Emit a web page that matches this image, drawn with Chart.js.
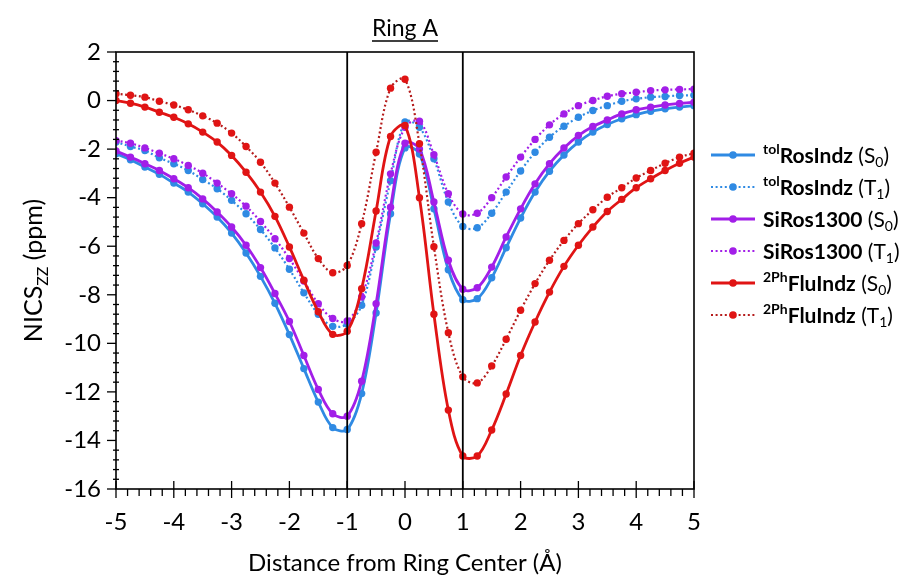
<!DOCTYPE html>
<html>
<head>
<meta charset="utf-8">
<script src="https://cdn.jsdelivr.net/npm/chart.js@4.4.1/dist/chart.umd.min.js"></script>
<style>
  html, body { margin: 0; padding: 0; background: #fff; }
  #wrap { width: 901px; height: 582px; }
</style>
</head>
<body>
<div id="wrap"><canvas id="chart" width="901" height="582"></canvas></div>
<script>
// distance from ring center (Å)
var distance = [-5, -4.75, -4.5, -4.25, -4, -3.75, -3.5, -3.25, -3, -2.75, -2.5, -2.25, -2, -1.75, -1.5, -1.25, -1, -0.75, -0.5, -0.25,
  0, 0.25, 0.5, 0.75, 1, 1.25, 1.5, 1.75, 2, 2.25, 2.5, 2.75, 3, 3.25, 3.5, 3.75, 4, 4.25, 4.5, 4.75, 5];

var rosS0 = [-2.19, -2.44, -2.74, -3.04, -3.40, -3.77, -4.25, -4.80, -5.46, -6.28, -7.24, -8.35, -9.64, -11.04, -12.42, -13.47, -13.55, -12.07, -8.75, -4.66,
  -1.95, -2.2, -4.46, -6.97, -8.2, -8.16, -7.30, -6.06, -4.84, -3.77, -2.91, -2.24, -1.71, -1.30, -0.99, -0.75, -0.58, -0.44, -0.34, -0.27, -0.21];
var rosT1 = [-1.71, -1.89, -2.06, -2.36, -2.60, -2.88, -3.25, -3.63, -4.11, -4.66, -5.31, -6.07, -6.95, -7.92, -8.8, -9.3, -9.2, -8.43, -6.03, -3.3,
  -0.88, -1.1, -2.40, -4.18, -5.19, -5.24, -4.64, -3.77, -2.90, -2.13, -1.51, -1.06, -0.69, -0.41, -0.21, -0.03, 0.07, 0.14, 0.17, 0.21, 0.22];
var siS0 = [-2.08, -2.33, -2.60, -2.88, -3.22, -3.59, -4.05, -4.59, -5.21, -5.96, -6.88, -7.95, -9.1, -10.5, -11.9, -12.9, -13.0, -11.56, -8.37, -4.39,
  -1.76, -2.0, -4.18, -6.58, -7.77, -7.71, -6.86, -5.62, -4.46, -3.43, -2.60, -1.95, -1.44, -1.07, -0.80, -0.55, -0.38, -0.27, -0.18, -0.12, -0.07];
var siT1 = [-1.65, -1.76, -1.95, -2.17, -2.40, -2.67, -2.99, -3.40, -3.84, -4.35, -4.98, -5.69, -6.51, -7.43, -8.37, -8.98, -9.08, -8.09, -5.87, -3.02,
  -1.1, -0.85, -2.23, -3.84, -4.67, -4.64, -4.0, -3.15, -2.33, -1.60, -1.0, -0.55, -0.21, 0.0, 0.18, 0.28, 0.34, 0.41, 0.44, 0.46, 0.47];
var fluS0 = [0.0, -0.11, -0.27, -0.48, -0.69, -0.96, -1.30, -1.71, -2.26, -2.95, -3.77, -4.77, -6.03, -7.40, -8.70, -9.63, -9.50, -7.75, -4.55, -1.48,
  -1.03, -4.0, -8.8, -12.75, -14.64, -14.64, -13.57, -12.09, -10.5, -9.12, -7.89, -6.83, -5.96, -5.21, -4.57, -4.07, -3.59, -3.22, -2.88, -2.58, -2.33];
var fluT1 = [0.28, 0.22, 0.14, -0.03, -0.18, -0.38, -0.63, -0.93, -1.34, -1.89, -2.54, -3.40, -4.39, -5.46, -6.51, -7.09, -6.79, -5.07, -2.13, 0.51,
  0.88, -1.78, -6.02, -9.56, -11.38, -11.63, -10.93, -9.83, -8.64, -7.54, -6.58, -5.76, -5.07, -4.50, -3.98, -3.59, -3.19, -2.88, -2.58, -2.33, -2.17];

var yTicks = [2, 0, -2, -4, -6, -8, -10, -12, -14, -16];
var xTicks = [-5, -4, -3, -2, -1, 0, 1, 2, 3, 4, 5];
var markerLines = [-1, 1];

var legendItems = [
  {sup: 'tol', name: 'RosIndz', state: 'S', sub: '0'},
  {sup: 'tol', name: 'RosIndz', state: 'T', sub: '1'},
  {sup: '', name: 'SiRos1300', state: 'S', sub: '0'},
  {sup: '', name: 'SiRos1300', state: 'T', sub: '1'},
  {sup: '2Ph', name: 'FluIndz', state: 'S', sub: '0'},
  {sup: '2Ph', name: 'FluIndz', state: 'T', sub: '1'}
];

var BLUE = '#2f8ae3';
var PURPLE = '#a21ee8';
var RED = '#e01414';
var FONT = 'Lato, "Open Sans", sans-serif';

function pts(vals) {
  return vals.map(function(v, i) { return {x: distance[i], y: v}; });
}

function makeSet(label, vals, color, dotted, order) {
  return {
    label: label,
    data: pts(vals),
    borderColor: dotted && color === RED ? '#b51c1c' : color,
    backgroundColor: color,
    pointBackgroundColor: color,
    pointBorderColor: color,
    borderWidth: dotted ? 2.2 : 2.8,
    borderDash: dotted ? [2, 2.6] : [],
    pointRadius: 3.7,
    pointBorderWidth: 0,
    tension: 0.35,
    order: order
  };
}

var axisPlugin = {
  id: 'axisPlugin',
  afterDraw: function(chart) {
    var ctx = chart.ctx;
    var a = chart.chartArea;
    var xs = chart.scales.x, ys = chart.scales.y;
    ctx.save();
    ctx.strokeStyle = '#000';
    ctx.lineWidth = 1.6;
    ctx.strokeRect(a.left, a.top, a.right - a.left, a.bottom - a.top);
    // marker lines
    ctx.lineWidth = 1.8;
    markerLines.forEach(function(v) {
      var px = xs.getPixelForValue(v);
      ctx.beginPath(); ctx.moveTo(px, a.top); ctx.lineTo(px, a.bottom); ctx.stroke();
    });
    // y ticks
    ctx.lineWidth = 1.3;
    for (var v = -16; v <= 2.001; v += 0.4) {
      var py = ys.getPixelForValue(v);
      var major = Math.abs(Math.round(v / 2) * 2 - v) < 0.01;
      ctx.beginPath();
      if (major) { ctx.moveTo(a.left - 9, py); ctx.lineTo(a.left, py); }
      else { ctx.moveTo(a.left - 3, py); ctx.lineTo(a.left + 3, py); }
      ctx.stroke();
    }
    // x ticks
    for (var k = 0; k <= 50; k++) {
      var xv = -5 + k * 0.2;
      var px2 = xs.getPixelForValue(xv);
      ctx.beginPath();
      if (k % 5 === 0) { ctx.moveTo(px2, a.bottom - 8); ctx.lineTo(px2, a.bottom + 9); }
      else { ctx.moveTo(px2, a.bottom); ctx.lineTo(px2, a.bottom + 7); }
      ctx.stroke();
    }
    // title
    ctx.fillStyle = '#000';
    ctx.font = '23px ' + FONT;
    ctx.textAlign = 'center';
    ctx.textBaseline = 'alphabetic';
    var tx = (a.left + a.right) / 2;
    ctx.fillText('Ring A', tx, 36);
    var tw = ctx.measureText('Ring A').width;
    ctx.lineWidth = 1.6;
    ctx.beginPath(); ctx.moveTo(tx - tw / 2, 41); ctx.lineTo(tx + tw / 2, 41); ctx.stroke();
    // y axis title with subscript
    ctx.save();
    ctx.translate(42, (a.top + a.bottom) / 2);
    ctx.rotate(-Math.PI / 2);
    ctx.textAlign = 'left';
    var p1 = 'NICS', p3 = ' (ppm)';
    ctx.font = '25px ' + FONT; var w1 = ctx.measureText(p1).width;
    ctx.font = '16px ' + FONT; var w2 = ctx.measureText('ZZ').width;
    ctx.font = '25px ' + FONT; var w3 = ctx.measureText(p3).width;
    var sx = -(w1 + w2 + w3) / 2;
    ctx.fillText(p1, sx, 0);
    ctx.font = '16px ' + FONT; ctx.fillText('ZZ', sx + w1, 6);
    ctx.font = '25px ' + FONT; ctx.fillText(p3, sx + w1 + w2, 0);
    ctx.restore();
    // legend
    var sets = chart.data.datasets;
    legendItems.forEach(function(it, i) {
      var ds = sets[i];
      var ly = 155 + i * 32;
      ctx.strokeStyle = ds.borderColor;
      ctx.lineWidth = ds.borderWidth;
      ctx.setLineDash(ds.borderDash);
      ctx.beginPath(); ctx.moveTo(711, ly); ctx.lineTo(755, ly); ctx.stroke();
      ctx.setLineDash([]);
      ctx.fillStyle = ds.pointBackgroundColor;
      ctx.beginPath(); ctx.arc(733, ly, 3.8, 0, Math.PI * 2); ctx.fill();
      ctx.fillStyle = '#000';
      ctx.textAlign = 'left';
      var x = 763;
      if (it.sup) {
        ctx.font = 'bold 14px ' + FONT;
        ctx.fillText(it.sup, x, ly - 1);
        x += ctx.measureText(it.sup).width;
      }
      ctx.font = 'bold 21px ' + FONT;
      ctx.fillText(it.name, x, ly + 8);
      x += ctx.measureText(it.name).width;
      ctx.font = '21px ' + FONT;
      ctx.fillText(' (' + it.state, x, ly + 8);
      x += ctx.measureText(' (' + it.state).width;
      ctx.font = '14px ' + FONT;
      ctx.fillText(it.sub, x, ly + 12);
      x += ctx.measureText(it.sub).width;
      ctx.font = '21px ' + FONT;
      ctx.fillText(')', x, ly + 8);
    });
    ctx.restore();
  }
};

var chart = new Chart(document.getElementById('chart'), {
  type: 'line',
  data: {
    datasets: [
      makeSet('tolRosIndz (S0)', rosS0, BLUE, false, 6),
      makeSet('tolRosIndz (T1)', rosT1, BLUE, true, 5),
      makeSet('SiRos1300 (S0)', siS0, PURPLE, false, 4),
      makeSet('SiRos1300 (T1)', siT1, PURPLE, true, 3),
      makeSet('2PhFluIndz (S0)', fluS0, RED, false, 2),
      makeSet('2PhFluIndz (T1)', fluT1, RED, true, 1)
    ]
  },
  options: {
    responsive: false,
    animation: false,
    layout: { padding: { left: 0, right: 207, top: 52, bottom: 0 } },
    plugins: { legend: { display: false }, tooltip: { enabled: false }, title: { display: false } },
    scales: {
      x: {
        type: 'linear', min: -5, max: 5,
        afterFit: function(s) { s.height = 93; },
        afterBuildTicks: function(s) { s.ticks = xTicks.map(function(v) { return {value: v}; }); },
        grid: { display: false, drawTicks: false },
        border: { display: false },
        ticks: { color: '#000', font: { size: 24, family: FONT }, padding: 19, maxRotation: 0 },
        title: { display: true, text: 'Distance from Ring Center (Å)', color: '#000',
          font: { size: 24, family: FONT }, padding: { top: 0, bottom: 4 } }
      },
      y: {
        min: -16, max: 2,
        afterFit: function(s) { s.width = 116; },
        afterBuildTicks: function(s) { s.ticks = yTicks.map(function(v) { return {value: v}; }); },
        grid: { display: false, drawTicks: false },
        border: { display: false },
        ticks: { color: '#000', font: { size: 24, family: FONT }, padding: 15 }
      }
    }
  },
  plugins: [axisPlugin]
});
</script>
</body>
</html>
